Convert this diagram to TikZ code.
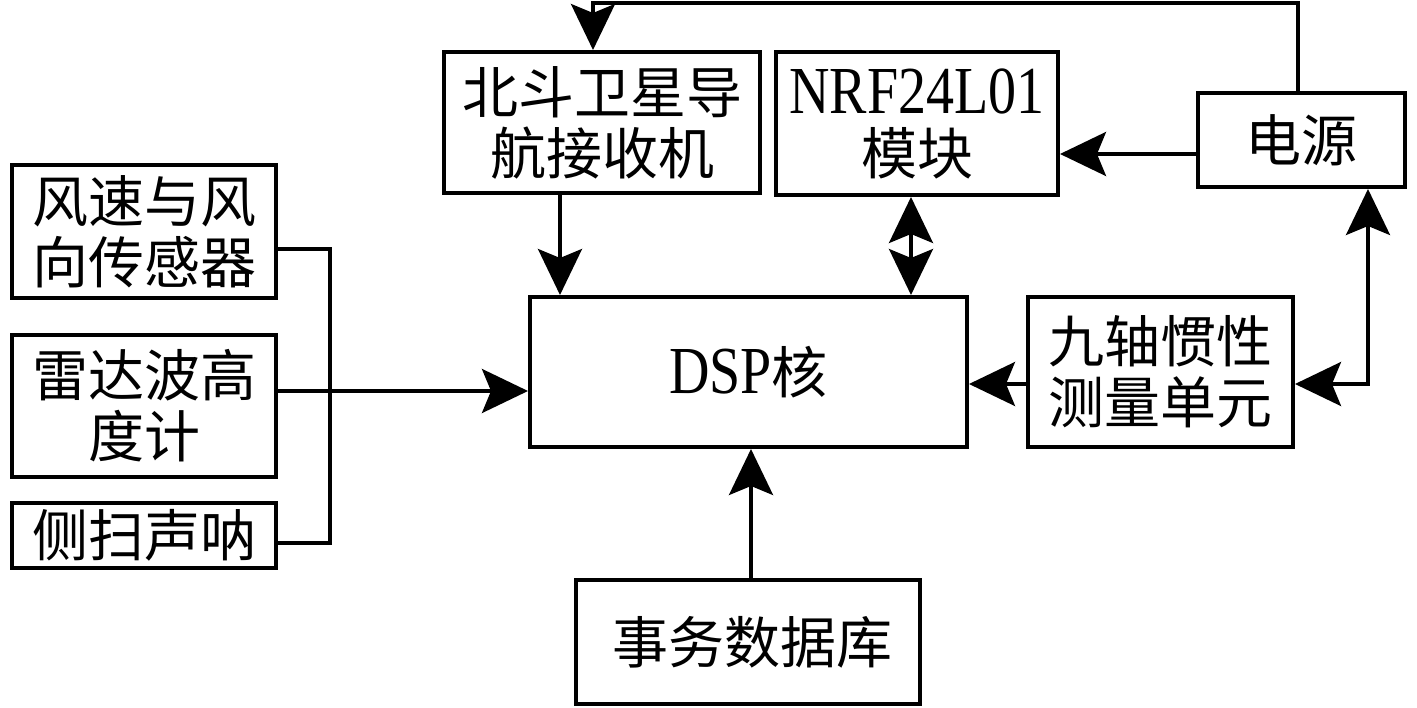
\documentclass[tikz,border=0pt]{standalone}
\usepackage{graphicx}
\usepackage{fontspec}
\setmainfont{Liberation Serif}
\newfontfamily\cjk{Noto Sans CJK SC}
\usetikzlibrary{arrows.meta}
\newcommand{\lat}[1]{\scalebox{1}[1.2]{\rmfamily #1}}
\begin{document}
\begin{tikzpicture}[x=1pt,y=-1pt,
  box/.style={draw,line width=4pt,rectangle,inner sep=0pt,align=center,
    font=\fontsize{56}{61}\selectfont\cjk},
  conn/.style={line width=3.5pt},
  tip/.style={-{Stealth[length=46pt,width=44pt,inset=9pt]}},
  btip/.style={{Stealth[length=46pt,width=44pt,inset=9pt]}-{Stealth[length=46pt,width=44pt,inset=9pt]}}]
\useasboundingbox (0,0) rectangle (1417,708);
% boxes
\node[box,minimum width=264pt,minimum height=133pt] (fs) at (144,231.5) {风速与风\\向传感器};
\node[box,minimum width=264pt,minimum height=142pt] (ld) at (144,406) {雷达波高\\度计};
\node[box,minimum width=264pt,minimum height=65pt] (cs) at (144,535.5) {侧扫声呐};
\node[box,minimum width=316pt,minimum height=141pt] (bd) at (602,122.5) {北斗卫星导\\航接收机};
\node[box,minimum width=282pt,minimum height=143pt] (nrf) at (917,123.5) {\lat{NRF24L01}\\模块};
\node[box,minimum width=207pt,minimum height=94pt] (pw) at (1301.5,140) {电源};
\node[box,minimum width=437pt,minimum height=150pt] (dsp) at (748.5,372) {\lat{DSP}核};
\node[box,minimum width=265pt,minimum height=150pt] (imu) at (1160.5,372) {九轴惯性\\测量单元};
\node[box,minimum width=344pt,minimum height=124pt] (db) at (748,642) {\,事务数据库};
% helper coordinates
\coordinate (y1) at (0,249);
\coordinate (y2) at (0,391);
\coordinate (y3) at (0,543);
\coordinate (bus) at (330,0);
\coordinate (top) at (0,3);
\coordinate (xbd) at (560,0);
\coordinate (xbt) at (593,0);
\coordinate (xnrf) at (911,0);
\coordinate (xpt) at (1298,0);
\coordinate (xpb) at (1368,0);
\coordinate (ypw) at (0,154);
\coordinate (yimu) at (0,384);
\coordinate (xdb) at (751,0);
% connectors
\draw[conn] (fs.east |- y1) -- (bus |- y1) -- (bus |- y3) -- (cs.east |- y3);
\draw[conn,tip] (ld.east |- y2) -- (dsp.west |- y2);
\draw[conn,tip] (xbd |- bd.south) -- (xbd |- dsp.north);
\draw[conn,btip] (xnrf |- nrf.south) -- (xnrf |- dsp.north);
\draw[conn,tip] (pw.west |- ypw) -- (nrf.east |- ypw);
\draw[conn,tip] (xpt |- pw.north) -- (xpt |- top) -- (xbt |- top) -- (xbt |- bd.north);
\draw[conn,tip] (imu.west |- yimu) -- (dsp.east |- yimu);
\draw[conn,btip] (xpb |- pw.south) -- (xpb |- yimu) -- (imu.east |- yimu);
\draw[conn,tip] (xdb |- db.north) -- (xdb |- dsp.south);
\end{tikzpicture}
\end{document}
